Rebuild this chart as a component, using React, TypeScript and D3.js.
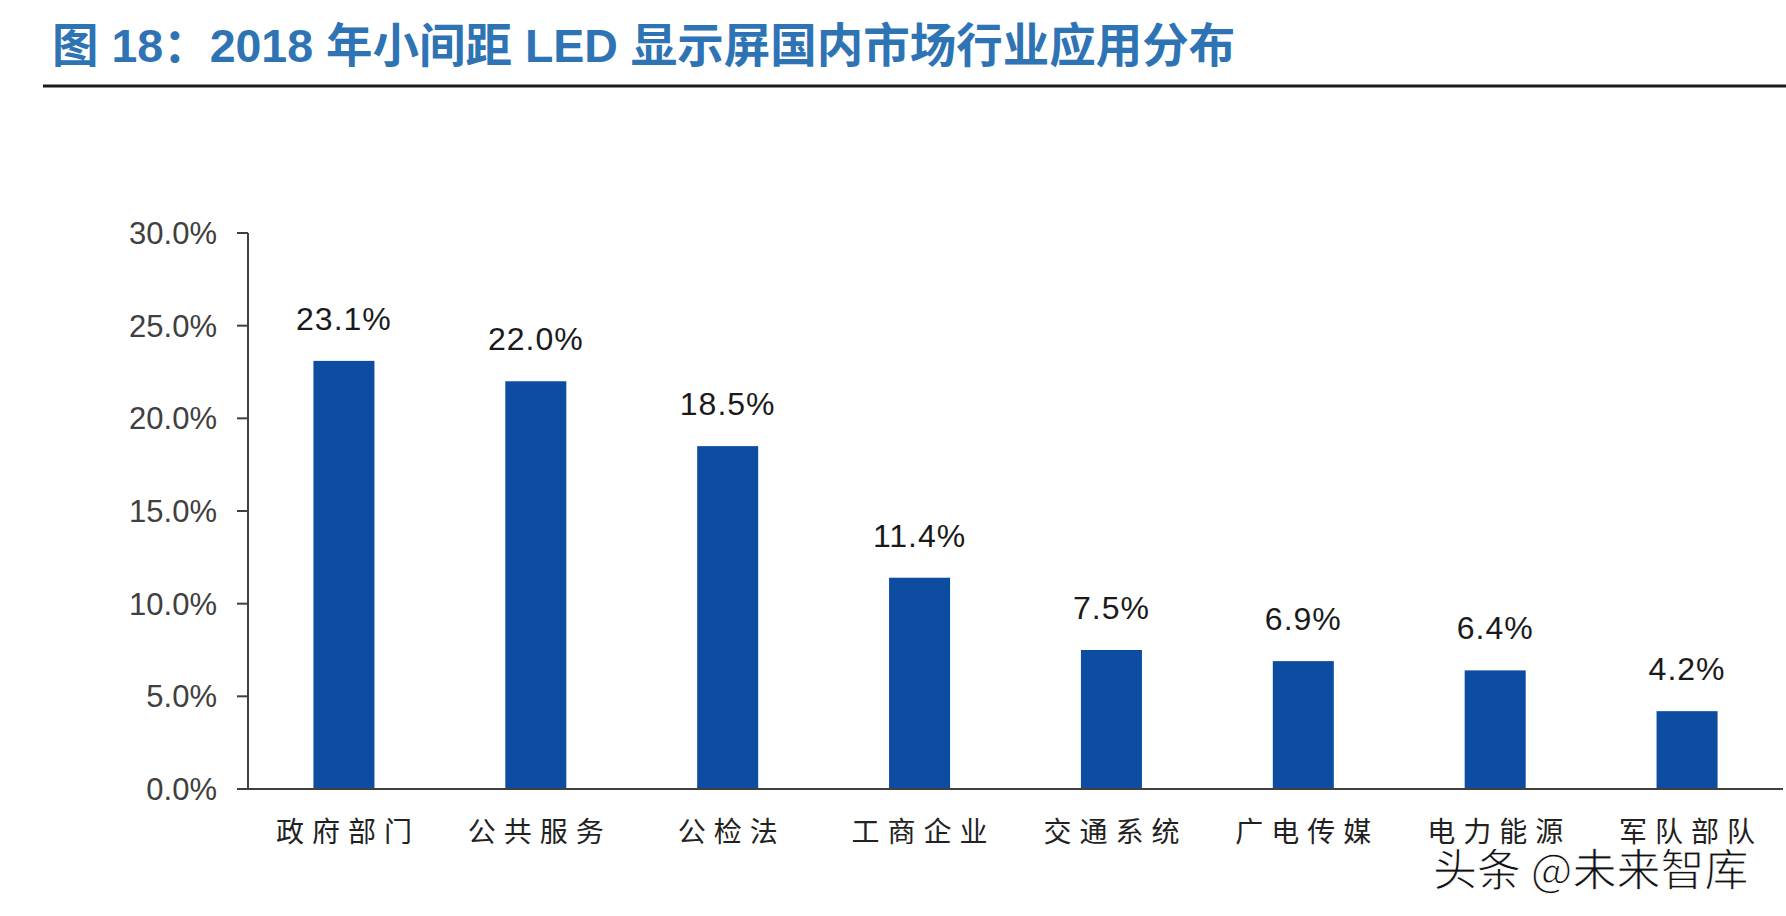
import React from 'react';
import * as d3 from 'd3';

const categories = ['政府部门', '公共服务', '公检法', '工商企业', '交通系统', '广电传媒', '电力能源', '军队部队'];
const values = [23.1, 22.0, 18.5, 11.4, 7.5, 6.9, 6.4, 4.2];
const yTicks = [0, 5, 10, 15, 20, 25, 30];
const titleText = '图 18：2018 年小间距 LED 显示屏国内市场行业应用分布';
const watermark = '头条 @未来智库';

const W = 1786;
const H = 916;

export default function App() {
  const x = d3.scaleBand<string>().domain(categories).range([248, 1783]).paddingInner(0.682).paddingOuter(0.341);
  const y = d3.scaleLinear().domain([0, 30]).range([789, 233]);
  const fmt = (v: number) => v.toFixed(1) + '%';

  return (
    <svg width={W} height={H} style={{ position: 'absolute', left: 0, top: 0, background: '#fff' }}>
      <rect x={0} y={0} width={W} height={H} fill="#fff" />
      <text x={52} y={62} fontSize={46.5} fontWeight="bold" fill="#2E74B5"
        fontFamily="'Liberation Sans', 'Noto Sans CJK SC', sans-serif">{titleText}</text>
      <line x1={43} x2={W} y1={86} y2={86} stroke="#1a1a1a" strokeWidth={3} />

      {/* bars */}
      {categories.map((c, i) => (
        <rect key={c} x={x(c)} y={y(values[i])} width={x.bandwidth()} height={y(0) - y(values[i])} fill="#0C4DA2" />
      ))}

      {/* value labels */}
      {categories.map((c, i) => (
        <text key={'v' + c} x={(x(c) as number) + x.bandwidth() / 2} y={y(values[i]) - 31} textAnchor="middle"
          fontSize={32} fill="#1a1a1a" fontFamily="'Liberation Sans', sans-serif" letterSpacing={1}>{fmt(values[i])}</text>
      ))}

      {/* y axis */}
      <line x1={248} x2={248} y1={y(30)} y2={y(0)} stroke="#404040" strokeWidth={2} />
      {yTicks.map(t => (
        <g key={'t' + t}>
          <line x1={237} x2={248} y1={y(t)} y2={y(t)} stroke="#404040" strokeWidth={2} />
          <text x={217} y={y(t)} dy="0.36em" textAnchor="end" fontSize={31} fill="#404040"
            fontFamily="'Liberation Sans', sans-serif">{t.toFixed(1) + '%'}</text>
        </g>
      ))}

      {/* x axis */}
      <line x1={237} x2={1783} y1={y(0)} y2={y(0)} stroke="#404040" strokeWidth={2} />
      {categories.map(c => (
        <text key={'c' + c} x={(x(c) as number) + x.bandwidth() / 2 + 4} y={842} textAnchor="middle"
          fontSize={28} fill="#222" letterSpacing={8} fontFamily="'Noto Sans CJK SC', sans-serif">{c}</text>
      ))}

      {/* watermark */}
      <text x={1433} y={886} fontSize={44} fill="#111" stroke="#fff" strokeWidth={1}
        fontFamily="'Noto Sans CJK SC', sans-serif">{watermark}</text>
    </svg>
  );
}
